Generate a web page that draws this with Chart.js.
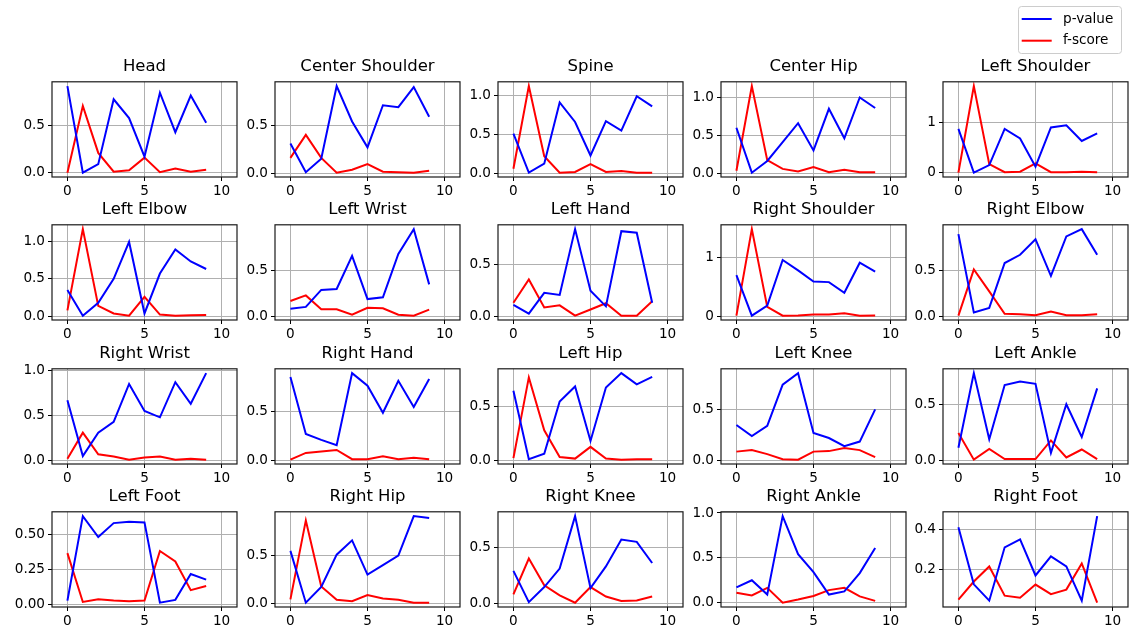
<!DOCTYPE html>
<html><head><meta charset="utf-8">
<script src="https://cdn.jsdelivr.net/npm/chart.js@4.4.1/dist/chart.umd.min.js"></script>
<style>
html,body{margin:0;padding:0;background:#fff;}
body{width:1131px;height:635px;position:relative;overflow:hidden;}
canvas{position:absolute;}
</style></head><body>
<script>
const titles = ['Head','Center Shoulder','Spine','Center Hip','Left Shoulder',
  'Left Elbow','Left Wrist','Left Hand','Right Shoulder','Right Elbow',
  'Right Wrist','Right Hand','Left Hip','Left Knee','Left Ankle',
  'Left Foot','Right Hip','Right Knee','Right Ankle','Right Foot'];
const xSteps = [0,1,2,3,4,5,6,7,8,9];
const xTickLabels = ['0','5','10'];
const seriesNames = ['p-value','f-score'];
const seriesColors = ['#0000ff','#ff0000'];

const pValue = [
  [0.92,0.00,0.09,0.78,0.58,0.17,0.85,0.43,0.82,0.53],
  [0.31,0.01,0.15,0.91,0.54,0.27,0.71,0.69,0.90,0.59],
  [0.51,0.01,0.125,0.91,0.66,0.23,0.67,0.55,0.99,0.86],
  [0.60,0.005,0.16,0.41,0.66,0.30,0.85,0.46,1.00,0.86],
  [0.87,0.00,0.15,0.87,0.68,0.12,0.90,0.94,0.63,0.78],
  [0.35,0.01,0.18,0.50,0.99,0.04,0.57,0.89,0.73,0.63],
  [0.085,0.105,0.29,0.30,0.66,0.19,0.21,0.68,0.95,0.35],
  [0.115,0.03,0.23,0.21,0.845,0.25,0.10,0.825,0.81,0.135],
  [0.70,0.01,0.18,0.955,0.78,0.59,0.58,0.40,0.91,0.76],
  [0.895,0.04,0.09,0.58,0.67,0.84,0.44,0.87,0.95,0.67],
  [0.67,0.05,0.31,0.43,0.85,0.55,0.48,0.87,0.63,0.97],
  [0.86,0.27,0.21,0.155,0.90,0.77,0.49,0.82,0.55,0.84],
  [0.65,0.01,0.06,0.55,0.69,0.18,0.68,0.815,0.71,0.78],
  [0.35,0.24,0.34,0.75,0.865,0.27,0.22,0.14,0.185,0.505],
  [0.115,0.775,0.19,0.67,0.70,0.68,0.07,0.50,0.21,0.64],
  [0.025,0.63,0.48,0.58,0.59,0.585,0.01,0.03,0.215,0.175],
  [0.55,0.005,0.17,0.51,0.66,0.30,0.40,0.50,0.915,0.895],
  [0.29,0.01,0.145,0.31,0.78,0.135,0.33,0.57,0.55,0.36],
  [0.17,0.25,0.09,0.965,0.54,0.34,0.09,0.125,0.33,0.61],
  [0.41,0.126,0.045,0.31,0.35,0.17,0.265,0.215,0.045,0.465]
];
const fScore = [
  [0.0,0.71,0.21,0.01,0.025,0.16,0.005,0.045,0.01,0.03],
  [0.16,0.40,0.16,0.005,0.035,0.095,0.015,0.01,0.005,0.025],
  [0.06,1.12,0.22,0.01,0.02,0.12,0.02,0.03,0.01,0.01],
  [0.03,1.15,0.17,0.055,0.02,0.08,0.01,0.045,0.01,0.01],
  [0.0,1.72,0.17,0.01,0.02,0.185,0.01,0.01,0.02,0.01],
  [0.08,1.16,0.14,0.04,0.01,0.26,0.025,0.01,0.015,0.02],
  [0.17,0.23,0.08,0.08,0.02,0.095,0.09,0.02,0.01,0.075],
  [0.135,0.36,0.09,0.11,0.01,0.07,0.13,0.01,0.01,0.15],
  [0.01,1.48,0.16,0.01,0.015,0.03,0.03,0.05,0.01,0.015],
  [0.005,0.51,0.27,0.025,0.02,0.01,0.05,0.01,0.01,0.02],
  [0.02,0.31,0.07,0.045,0.01,0.035,0.045,0.01,0.02,0.01],
  [0.005,0.075,0.09,0.105,0.01,0.01,0.04,0.01,0.025,0.01],
  [0.02,0.775,0.28,0.03,0.015,0.125,0.015,0.005,0.01,0.01],
  [0.085,0.10,0.06,0.01,0.005,0.085,0.09,0.12,0.10,0.03],
  [0.245,0.01,0.105,0.015,0.015,0.015,0.18,0.03,0.10,0.015],
  [0.365,0.015,0.035,0.025,0.02,0.025,0.38,0.305,0.10,0.13],
  [0.04,0.87,0.175,0.035,0.02,0.085,0.05,0.035,0.005,0.005],
  [0.08,0.40,0.16,0.07,0.005,0.145,0.06,0.02,0.025,0.06],
  [0.11,0.08,0.165,0.0,0.035,0.075,0.14,0.165,0.07,0.02],
  [0.05,0.14,0.215,0.07,0.06,0.125,0.077,0.10,0.23,0.035]
];
const yTickLabels = [
  ['0.0','0.5'],['0.0','0.5'],['0.0','0.5','1.0'],['0.0','0.5','1.0'],['0','1'],
  ['0.0','0.5','1.0'],['0.0','0.5'],['0.0','0.5'],['0','1'],['0.0','0.5'],
  ['0.0','0.5','1.0'],['0.0','0.5'],['0.0','0.5'],['0.0','0.5'],['0.0','0.5'],
  ['0.00','0.25','0.50'],['0.0','0.5'],['0.0','0.5'],['0.0','0.5','1.0'],['0.2','0.4']
];

const FONT = "'DejaVu Sans', sans-serif";
const frameLeft0 = 52.3, colPitch = 222.75, frameTop0 = 82.3, rowPitch = 143.1;
const frameW = 185, frameH = 95;
const padL = 50, padR = 50, padT = 25, padB = 28;

const boxFramePlugin = {
  id: 'boxFrame',
  afterDraw(chart) {
    const a = chart.chartArea, c = chart.ctx;
    c.save();
    c.strokeStyle = '#1a1a1a';
    c.lineWidth = 1.2;
    c.strokeRect(a.left, a.top, a.right - a.left, a.bottom - a.top);
    c.restore();
  }
};

titles.forEach((title, k) => {
  const r = Math.floor(k / 5), col = k % 5;
  const L = Math.round(frameLeft0 + col * colPitch);
  const T = Math.round(frameTop0 + r * rowPitch);
  const cv = document.createElement('canvas');
  cv.width = padL + frameW + padR;
  cv.height = padT + frameH + padB;
  cv.style.left = (L - padL) + 'px';
  cv.style.top = (T - padT) + 'px';
  document.body.appendChild(cv);

  const all = pValue[k].concat(fScore[k]);
  const dmin = Math.min(...all), dmax = Math.max(...all);
  const m = (dmax - dmin) * 0.05;
  const yt = yTickLabels[k];

  new Chart(cv.getContext('2d'), {
    type: 'line',
    data: {
      datasets: [pValue[k], fScore[k]].map((arr, i) => ({
        label: seriesNames[i],
        data: arr.map((v, j) => ({x: xSteps[j], y: v})),
        borderColor: seriesColors[i],
        backgroundColor: seriesColors[i],
        borderWidth: 2,
        pointRadius: 0,
        tension: 0,
        fill: false
      }))
    },
    options: {
      responsive: false,
      animation: false,
      devicePixelRatio: 1,
      layout: {padding: {left: 0, right: padR, top: 0, bottom: 0}},
      plugins: {
        legend: {display: false},
        tooltip: {enabled: false},
        title: {
          display: true, text: title, color: '#000', fullSize: false,
          font: {family: FONT, size: 16.5, weight: 'normal', lineHeight: 1.2},
          padding: {top: 0, bottom: 5}
        }
      },
      scales: {
        x: {
          type: 'linear', min: -1, max: 11,
          afterBuildTicks(s) { s.ticks = xTickLabels.map(t => ({value: parseFloat(t)})); },
          afterFit(s) { s.height = padB; },
          ticks: {font: {family: FONT, size: 13.6}, color: '#000', padding: 2,
                  maxRotation: 0, autoSkip: false,
                  callback: (v, i) => xTickLabels[i]},
          grid: {color: '#b0b0b0', lineWidth: 1, tickColor: '#000', tickLength: 4, drawTicks: true},
          border: {display: false}
        },
        y: {
          type: 'linear', min: dmin - m, max: dmax + m,
          afterBuildTicks(s) { s.ticks = yt.map(t => ({value: parseFloat(t)})); },
          afterFit(s) { s.width = padL; },
          ticks: {font: {family: FONT, size: 13.6}, color: '#000', padding: 3, autoSkip: false,
                  callback: (v, i) => yt[i]},
          grid: {color: '#b0b0b0', lineWidth: 1, tickColor: '#000', tickLength: 4, drawTicks: true},
          border: {display: false}
        }
      }
    },
    plugins: [boxFramePlugin]
  });
});

// legend
const legendPlugin = {
  id: 'boxLegend',
  afterDraw(chart) {
    const c = chart.ctx;
    c.save();
    const bx = 2.5, by = 2.5, bw = 103, bh = 47, rad = 3;
    c.beginPath();
    c.moveTo(bx + rad, by);
    c.lineTo(bx + bw - rad, by); c.quadraticCurveTo(bx + bw, by, bx + bw, by + rad);
    c.lineTo(bx + bw, by + bh - rad); c.quadraticCurveTo(bx + bw, by + bh, bx + bw - rad, by + bh);
    c.lineTo(bx + rad, by + bh); c.quadraticCurveTo(bx, by + bh, bx, by + bh - rad);
    c.lineTo(bx, by + rad); c.quadraticCurveTo(bx, by, bx + rad, by);
    c.closePath();
    c.fillStyle = 'rgba(255,255,255,0.8)';
    c.fill();
    c.strokeStyle = '#cccccc';
    c.lineWidth = 1;
    c.stroke();
    chart.data.datasets.forEach((ds, i) => {
      const y = 15 + i * 21.7;
      c.beginPath();
      c.moveTo(5.7, y); c.lineTo(35.7, y);
      c.strokeStyle = ds.borderColor; c.lineWidth = 2; c.stroke();
      c.fillStyle = '#000';
      c.font = "13.6px 'DejaVu Sans', sans-serif";
      c.textBaseline = 'middle';
      c.textAlign = 'left';
      c.fillText(ds.label, 47, y);
    });
    c.restore();
  }
};
const lc = document.createElement('canvas');
lc.width = 110; lc.height = 54;
lc.style.left = '1016px'; lc.style.top = '4px';
document.body.appendChild(lc);
new Chart(lc.getContext('2d'), {
  type: 'line',
  data: {datasets: seriesNames.map((n, i) => ({label: n, data: [], borderColor: seriesColors[i], borderWidth: 2}))},
  options: {
    responsive: false, animation: false, devicePixelRatio: 1,
    plugins: {legend: {display: false}, tooltip: {enabled: false}, title: {display: false}},
    scales: {x: {display: false}, y: {display: false}}
  },
  plugins: [legendPlugin]
});
</script>
</body></html>
